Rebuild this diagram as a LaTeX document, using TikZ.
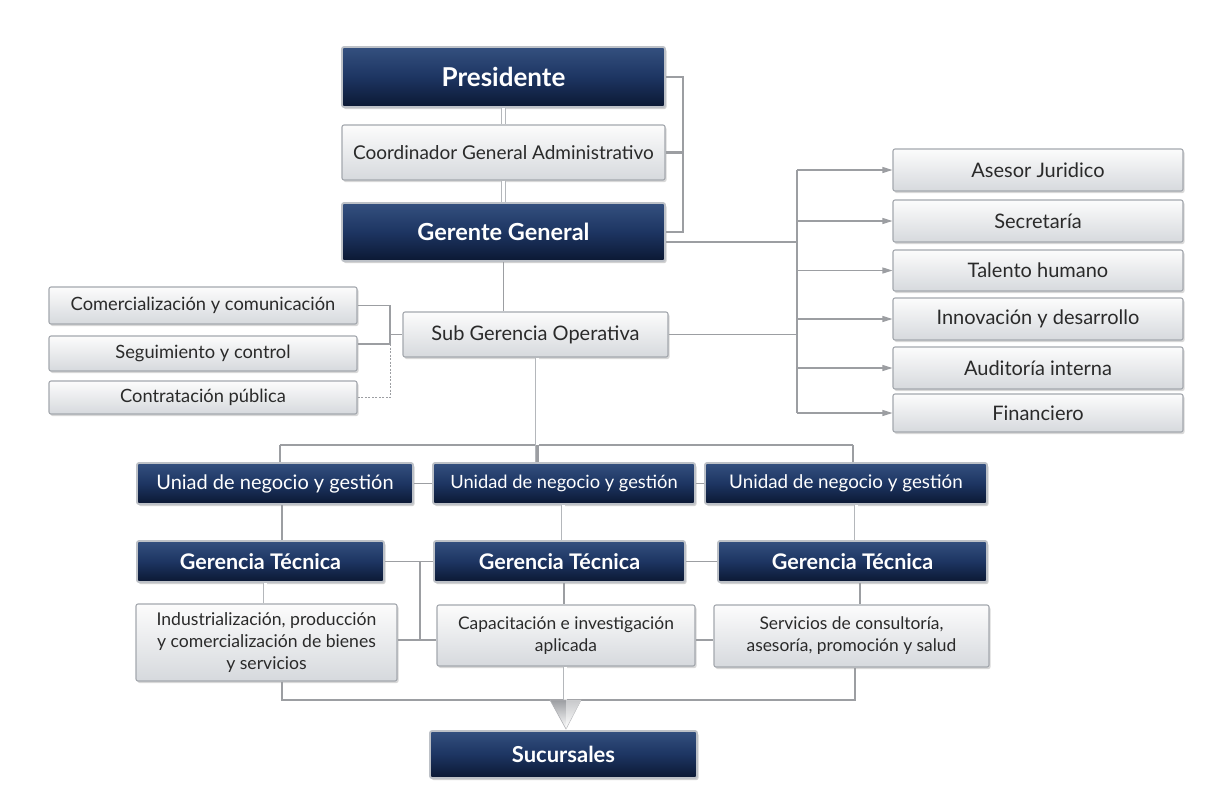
\documentclass[tikz,border=0pt]{standalone}
\usepackage{fontspec}
\setmainfont{Lato}
\usetikzlibrary{shadows,arrows.meta,calc}
\definecolor{navyT}{HTML}{34507F}
\definecolor{navyM}{HTML}{1D3562}
\definecolor{navyB}{HTML}{0B1833}
\definecolor{darkedge}{HTML}{BDC1C7}
\definecolor{lightT}{HTML}{FCFCFC}
\definecolor{lightB}{HTML}{D6D9DD}
\definecolor{lightedge}{HTML}{A4A8AE}
\definecolor{lineg}{HTML}{9C9EA2}
\definecolor{dbl}{HTML}{B4B7BB}
\definecolor{txt}{HTML}{2A2A2A}
\tikzset{
  fsz/.style={font=\fontsize{#1}{22}\selectfont},
  darkbox/.style={rounded corners=2pt, draw=darkedge, line width=1.8pt,
    top color=navyT, bottom color=navyB, middle color=navyM,
    drop shadow={shadow xshift=1.5pt, shadow yshift=-2pt, opacity=0.35},
    text=white, align=center, inner sep=0pt},
  lightbox/.style={rounded corners=2pt, draw=lightedge, line width=1.1pt,
    top color=lightT, bottom color=lightB,
    drop shadow={shadow xshift=1.5pt, shadow yshift=-2pt, opacity=0.3},
    text=txt, align=center, inner sep=0pt},
  conn/.style={draw=lineg, line width=1.1pt},
  dconn/.style={draw=dbl, line width=0.9pt, double=white, double distance=3pt},
  dashconn/.style={draw=lineg, line width=1pt, dash pattern=on 2pt off 1.5pt},
  arr/.style={conn, -{Triangle[length=10pt,width=6pt,fill=lineg]}},
}
\begin{document}
\begin{tikzpicture}[x=1pt,y=-1pt]
\useasboundingbox[fill=white] (0,0) rectangle (1214,785);
% ---------- top column
\node[darkbox, minimum width=323pt, minimum height=60pt, fsz=26] (pres) at (503.5,77) {\bfseries Presidente};
\node[lightbox, minimum width=323pt, minimum height=55pt, fsz=19] (coord) at (503.5,152.5) {Coordinador General Administrativo};
\node[darkbox, minimum width=323pt, minimum height=58pt, fsz=23.5] (gg) at (503.5,232) {\bfseries Gerente General};
\node[lightbox, minimum width=265pt, minimum height=45pt, fsz=20] (sgo) at (535.5,334.5) {Sub Gerencia Operativa};
% ---------- left group
\node[lightbox, minimum width=308pt, minimum height=37pt, fsz=18.3] (com) at (203,305.5) {Comercialización y comunicación};
\node[lightbox, minimum width=308pt, minimum height=35pt, fsz=18.3] (seg) at (203,353.5) {Seguimiento y control};
\node[lightbox, minimum width=308pt, minimum height=33pt, fsz=18.3] (con) at (203,397.5) {Contratación pública};
% ---------- right group
\node[lightbox, minimum width=290pt, minimum height=42pt, fsz=20] (aj)  at (1038,170) {Asesor Juridico};
\node[lightbox, minimum width=290pt, minimum height=42pt, fsz=20] (sec) at (1038,221) {Secretaría};
\node[lightbox, minimum width=290pt, minimum height=41pt, fsz=20] (tal) at (1038,270.5) {Talento humano};
\node[lightbox, minimum width=290pt, minimum height=42pt, fsz=20] (inn) at (1038,319) {Innovación y desarrollo};
\node[lightbox, minimum width=290pt, minimum height=42pt, fsz=20] (aud) at (1038,368) {Auditoría interna};
\node[lightbox, minimum width=290pt, minimum height=38pt, fsz=20] (fin) at (1038,413) {Financiero};
% ---------- unidades
\node[darkbox, minimum width=276pt, minimum height=41pt, fsz=20] (u1) at (275,483.5) {Uniad de negocio y gestión};
\node[darkbox, minimum width=262pt, minimum height=41pt, fsz=18.3] (u2) at (564,483.5) {Unidad de negocio y gestión};
\node[darkbox, minimum width=282pt, minimum height=41pt, fsz=18.8] (u3) at (846,483.5) {Unidad de negocio y gestión};
% ---------- gerencias
\node[darkbox, minimum width=247pt, minimum height=41pt, fsz=21.5] (g1) at (260.5,561.5) {\bfseries Gerencia Técnica};
\node[darkbox, minimum width=251pt, minimum height=41pt, fsz=21.5] (g2) at (559.5,561.5) {\bfseries Gerencia Técnica};
\node[darkbox, minimum width=269pt, minimum height=41pt, fsz=21.5] (g3) at (852.5,561.5) {\bfseries Gerencia Técnica};
% ---------- areas
\node[lightbox, minimum width=261pt, minimum height=77pt, fsz=17.6] (b1) at (266.5,642.5) {Industrialización, producción\\y comercialización de bienes\\y servicios};
\node[lightbox, minimum width=258pt, minimum height=61pt, fsz=17.4] (b2) at (566,635.5) {Capacitación e investigación\\aplicada};
\node[lightbox, minimum width=275pt, minimum height=62pt, fsz=17.4] (b3) at (851.5,636) {Servicios de consultoría,\\asesoría, promoción y salud};
\node[darkbox, minimum width=267pt, minimum height=47pt, fsz=22] (suc) at (563.5,754.5) {\bfseries Sucursales};

% ================= connectors
% top column vertical double lines
\draw[dconn] (pres.south) -- (coord.north);
\draw[dconn] (coord.south) -- (gg.north);
\draw[conn] (gg.south) -- (gg.south |- sgo.north);
% right bracket
\coordinate (rb) at (683,77);
\draw[conn] (pres.east) -- (rb) -- (rb |- gg.east) -- (gg.east);
\draw[draw=lineg, line width=3pt] (coord.east) -- (rb |- coord.east);
% left bracket
\coordinate (lb) at (390,305.5);
\coordinate (lbm) at (390,344);
\draw[conn] (com.east) -- (lb) -- (lbm);
\draw[conn] ($(seg.east)+(0,-9.5)$) -- (lbm);
\draw[conn] (lb |- sgo.west) -- (sgo.west);
\draw[dashconn] (lbm) -- (lb |- con.east) -- (con.east);
% right fan
\coordinate (rv) at (797,242);
\draw[conn] ($(gg.east)+(0,10)$) -- (rv);
\draw[conn] (sgo.east) -- (rv |- sgo.east);
\draw[conn] (rv |- aj.west) -- (rv |- fin.west);
\foreach \n in {aj,sec,tal,inn,aud,fin}{
  \draw[arr] (rv |- \n.west) -- (\n.west);
}
% bus to unidades
\coordinate (bus) at (537,445);
\coordinate (busL) at (280,445);
\coordinate (busR) at (853,445);
\draw[conn] (busL) -- (busR);
\draw[dconn] (sgo.south -| bus) -- (bus |- u2.north);
\draw[draw=lineg, line width=3pt] (bus) -- (bus |- u2.north);
\draw[conn] (busL) -- (busL |- u1.north);
\draw[conn] (busR) -- (busR |- u3.north);
\draw[conn] (u1.east) -- (u2.west);
\draw[conn] (u2.east) -- (u3.west);
% unidades to gerencias
\draw[conn] (u1.south -| 282,0) -- (g1.north -| 282,0);
\draw[dconn] (u2.south -| 563,0) -- (g2.north -| 563,0);
\draw[dconn] (u3.south -| 856,0) -- (g3.north -| 856,0);
% gerencias links
\coordinate (gv) at (420,561.5);
\draw[conn] (g1.east) -- (g2.west);
\draw[conn] (gv) -- (420,640);
\draw[conn] (b1.east |- 0,640) -- (b2.west |- 0,640);
\draw[conn] (g2.east) -- (g3.west);
\draw[conn] (b2.east |- 0,640) -- (b3.west |- 0,640);
% gerencias to areas
\draw[dconn] (g1.south -| 265,0) -- (b1.north -| 265,0);
\draw[conn] (g2.south -| 564,0) -- (b2.north -| 564,0);
\draw[conn] (g3.south -| 860,0) -- (b3.north -| 860,0);
% bottom
\coordinate (bl) at (282,700);
\coordinate (br) at (855,700);
\draw[conn] (b1.south -| bl) -- (bl) -- (br) -- (b3.south -| br);
\draw[dconn] (b2.south -| 565,0) -- (565,701);
\shade[top color=lineg, bottom color=white, draw=lineg!80, line width=0.6pt]
  (550,700) -- (581,700) -- (566,729) -- cycle;
\fill[white, opacity=0.45] (566,700) -- (581,700) -- (566,729) -- cycle;
\end{tikzpicture}
\end{document}
